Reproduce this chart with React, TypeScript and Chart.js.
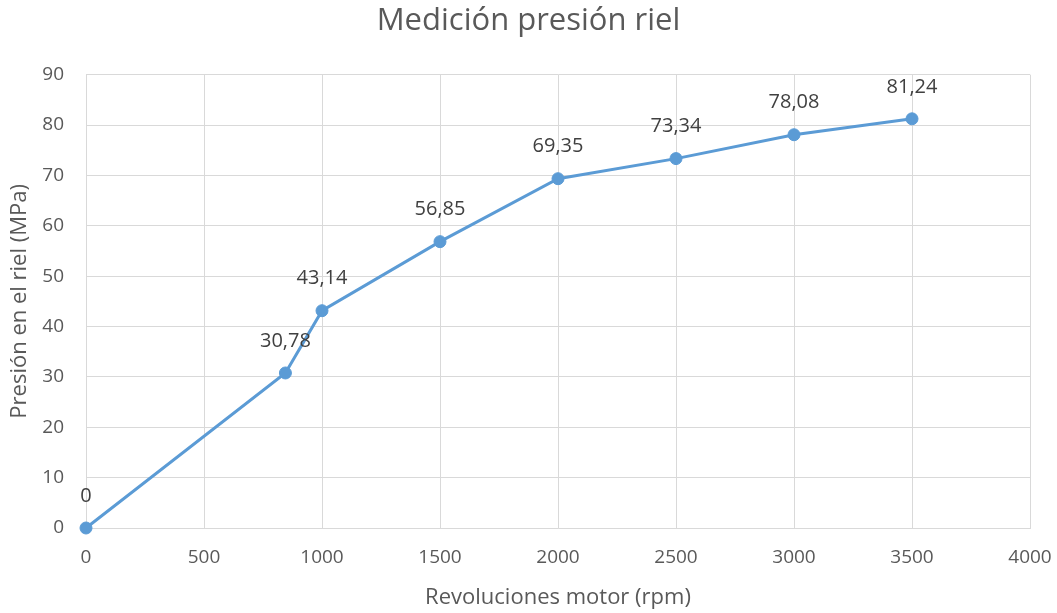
import React, { useEffect, useRef } from "react";
import { Chart, registerables } from "chart.js";

Chart.register(...registerables);

const rpmValues = [0, 845, 1000, 1500, 2000, 2500, 3000, 3500];
const pressureValues = [0, 30.78, 43.14, 56.85, 69.35, 73.34, 78.08, 81.24];
const pressureLabels = ["0", "30,78", "43,14", "56,85", "69,35", "73,34", "78,08", "81,24"];

const chartTitle = "Medición presión riel";
const xTitle = "Revoluciones motor (rpm)";
const yTitle = "Presión en el riel (MPa)";

const FONT = "'Open Sans', sans-serif";
const GRID = "#d9d9d9";
const TEXT = "#595959";
const LINE = "#5b9bd5";

const dataLabelPlugin = {
  id: "dataLabels",
  afterDatasetsDraw(chart: any) {
    const ctx = chart.ctx;
    const meta = chart.getDatasetMeta(0);
    ctx.save();
    ctx.font = `20px ${FONT}`;
    ctx.fillStyle = "#404040";
    ctx.textAlign = "center";
    ctx.textBaseline = "middle";
    meta.data.forEach((pt: any, i: number) => {
      ctx.fillText(pressureLabels[i], pt.x, pt.y - 32);
    });
    ctx.restore();
  },
};

export default function App() {
  const ref = useRef<HTMLCanvasElement>(null);
  useEffect(() => {
    if (!ref.current) return;
    const chart = new Chart(ref.current, {
      type: "scatter",
      data: {
        datasets: [
          {
            data: rpmValues.map((x, i) => ({ x, y: pressureValues[i] })),
            showLine: true,
            clip: false,
            borderColor: LINE,
            backgroundColor: LINE,
            borderWidth: 3,
            pointRadius: 6,
            pointBorderWidth: 1,
            pointBorderColor: LINE,
            pointBackgroundColor: LINE,
          },
        ],
      },
      options: {
        animation: false,
        responsive: false,
        maintainAspectRatio: false,
        layout: { padding: { left: 0, right: 0, top: 0, bottom: 0 } },
        plugins: {
          legend: { display: false },
          tooltip: { enabled: false },
          title: {
            display: true,
            text: chartTitle,
            color: TEXT,
            font: { family: FONT, size: 31, weight: "normal", lineHeight: 1.2 },
            padding: { top: 3, bottom: 34.5 },
          },
        },
        scales: {
          x: {
            type: "linear",
            min: 0,
            max: 4000,
            afterFit(scale: any) {
              scale.height = 85;
              scale.paddingLeft = 0;
              scale.paddingRight = 27;
            },
            ticks: {
              stepSize: 500,
              color: TEXT,
              padding: 18,
              font: { family: FONT, size: 19, lineHeight: 1.2 },
              callback: (v: any) => String(v),
            },
            grid: { color: GRID, lineWidth: 1, drawTicks: false },
            border: { color: GRID, width: 1 },
            title: {
              display: true,
              text: xTitle,
              color: TEXT,
              font: { family: FONT, size: 22, lineHeight: 1.2 },
              padding: { top: 0, bottom: 2 },
            },
          },
          y: {
            type: "linear",
            min: 0,
            max: 90,
            afterFit(scale: any) {
              scale.width = 86;
            },
            ticks: {
              stepSize: 10,
              color: TEXT,
              padding: 22,
              font: { family: FONT, size: 19, lineHeight: 1.2 },
              callback: (v: any) => String(v),
            },
            grid: { color: GRID, lineWidth: 1, drawTicks: false },
            border: { color: GRID, width: 1 },
            title: {
              display: true,
              text: yTitle,
              color: TEXT,
              font: { family: FONT, size: 22, lineHeight: 1.2 },
              padding: { top: 7, bottom: 0 },
            },
          },
        },
      },
      plugins: [dataLabelPlugin],
    });
    return () => chart.destroy();
  }, []);
  return (
    <div style={{ position: "fixed", left: 0, top: 0, width: 1057, height: 613, background: "#fff" }}>
      <canvas ref={ref} width={1057} height={613} style={{ display: "block" }} />
    </div>
  );
}
